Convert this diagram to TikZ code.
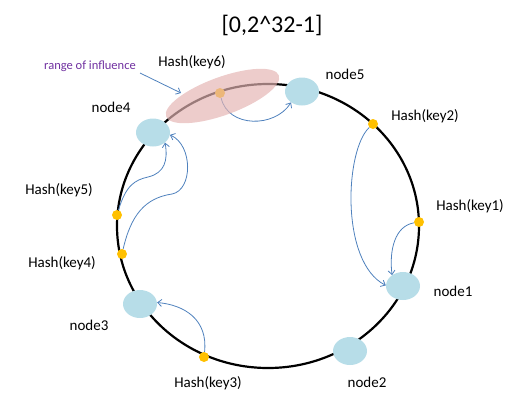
\documentclass[tikz,border=0pt]{standalone}
\usepackage{fontspec}
\setmainfont{Carlito}
\usetikzlibrary{shapes.geometric,arrows.meta}
\definecolor{nodeblue}{RGB}{183,221,232}
\definecolor{dotorange}{RGB}{255,192,0}
\definecolor{arrowblue}{RGB}{79,129,189}
\definecolor{pinkfill}{RGB}{228,180,179}
\definecolor{infpurple}{RGB}{112,48,160}
\tikzset{
  server/.style={ellipse,fill=nodeblue,minimum width=34pt,minimum height=28pt,inner sep=0pt},
  keydot/.style={circle,fill=dotorange,minimum size=10pt,inner sep=0pt},
  lbl/.style={font=\fontsize{15}{18}\selectfont,text=black,inner sep=0pt},
  mapto/.style={draw=arrowblue,line width=0.8pt,-{Straight Barb[length=4pt,width=7pt]}},
  ring/.style={draw=black,line width=2.2pt}
}
\begin{document}
\begin{tikzpicture}[x=1pt,y=-1pt]
\useasboundingbox (0,0) rectangle (514,416);
% ring
\draw[ring] (268,226) ellipse [x radius=151pt, y radius=142pt];
% key dots
\node[keydot] (k6) at (220,93) {};
\node[keydot] (k2) at (373,124) {};
\node[keydot] (k1) at (419,222) {};
\node[keydot] (k5) at (117,215) {};
\node[keydot] (k4) at (122,254) {};
\node[keydot] (k3) at (204,357) {};
% servers
\node[server] (n5) at (302,91.5) {};
\node[server] (n4) at (153,132.5) {};
\node[server] (n1) at (403,286) {};
\node[server] (n2) at (350,351) {};
\node[server] (n3) at (140,304) {};
% mapping arrows
\draw[mapto] (k6) .. controls (228,128) and (275,128) .. (n5.225);
\draw[mapto] (k2) .. controls (345,150) and (340,262) .. (n1.178);
\draw[mapto] (k1) .. controls (395,226) and (389,250) .. (n1.135);
\draw[mapto] (k3) .. controls (208,320) and (185,305) .. (n3.5);
\draw[mapto] (k5) .. controls (126,185) and (135,180) .. (148,177)
                  .. controls (165,173) and (168,160) .. (n4.-40);
\draw[mapto] (k4) .. controls (131,215) and (145,198) .. (172,194)
                  .. controls (193,190) and (193,145) .. (n4.-8);
% range of influence
\node[ellipse,fill=pinkfill,fill opacity=0.68,minimum width=120pt,minimum height=38pt,inner sep=0pt,rotate=20] (pink) at (222.5,96) {};
\node[font=\fontsize{12.5}{15}\selectfont,text=infpurple,inner sep=0pt] (rng) at (90,66) {range of influence};
\coordinate (infl) at (181,93);
\draw[draw=arrowblue,line width=0.8pt,-{Straight Barb[length=4pt,width=7pt]}] (140,73) -- (infl);
% title
\node[font=\fontsize{24}{28}\selectfont,inner sep=0pt] (title) at (272,25) {[0,2\^{}32-1]};
% labels
\node[lbl] (l6) at (192,62) {Hash(key6)};
\node[lbl] (l5n) at (345,74) {node5};
\node[lbl] (l4n) at (111,107) {node4};
\node[lbl] (l2) at (425,116) {Hash(key2)};
\node[lbl] (l1) at (470,206) {Hash(key1)};
\node[lbl] (l1n) at (453,291) {node1};
\node[lbl] (l5) at (59,190) {Hash(key5)};
\node[lbl] (l4) at (62,263) {Hash(key4)};
\node[lbl] (l3n) at (89,325) {node3};
\node[lbl] (l3) at (208,383) {Hash(key3)};
\node[lbl] (l2n) at (367,382) {node2};
\end{tikzpicture}
\end{document}
